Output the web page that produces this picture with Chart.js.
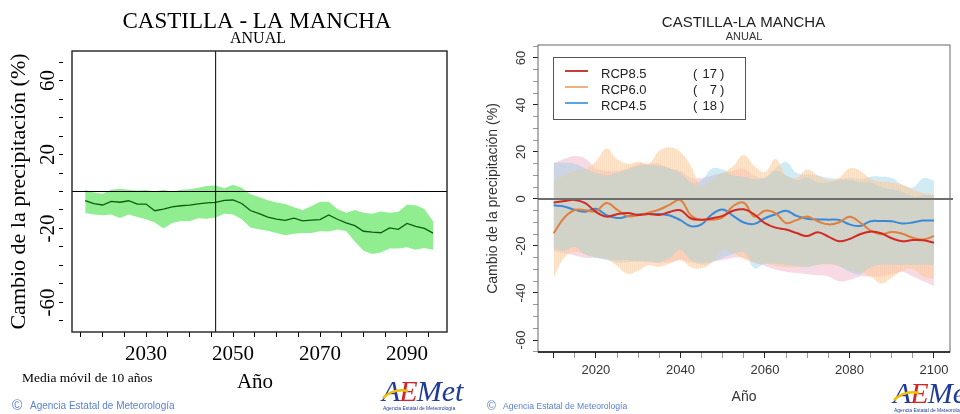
<!DOCTYPE html>
<html lang="es">
<head>
<meta charset="utf-8">
<title>Castilla-La Mancha · cambio de la precipitación anual</title>
<style>
  html, body { margin: 0; padding: 0; background: #fff; }
  #panel { position: relative; width: 960px; height: 414px; overflow: hidden; }
  .graf { position: absolute; top: 0; width: 480px; height: 414px; }
</style>
</head>
<body>
<div id="panel">
  <div class="graf" style="left:0"><canvas id="izq"></canvas></div>
  <div class="graf" style="left:480px"><canvas id="der"></canvas></div>
</div>

<script src="https://cdn.jsdelivr.net/npm/chart.js"></script>
<script>
// ---- Panel izquierdo: media móvil de 10 años (conjunto de modelos) ----
const anosIzq = [2016, 2018, 2020, 2022, 2024, 2026, 2028, 2030, 2032, 2034, 2036, 2038, 2040, 2042,
  2044, 2046, 2048, 2050, 2052, 2054, 2056, 2058, 2060, 2062, 2064, 2066, 2068, 2070, 2072, 2074,
  2076, 2078, 2080, 2082, 2084, 2086, 2088, 2090, 2092, 2094, 2096];
const mediaIzq = [-4.9, -6.5, -7.3, -5.3, -5.8, -5.0, -6.8, -6.8, -10.4, -9.5, -8.3, -7.7, -7.4, -6.7,
  -6.1, -5.9, -4.8, -4.6, -6.5, -10.3, -12.0, -13.8, -15.0, -15.6, -14.4, -15.9, -15.5, -15.2, -12.7, -15.0,
  -17.0, -18.5, -21.5, -22.0, -22.3, -19.7, -20.5, -17.3, -18.8, -20.0, -22.5];
const bandaSupIzq = [1.0, -0.5, -1.2, 1.0, 1.5, 1.0, 0.5, 0.8, 0.0, 1.0, -0.3, 1.0, 1.2, 2.0,
  3.0, 3.3, 1.8, 3.6, 2.0, -1.5, -3.0, -4.8, -6.0, -6.8, -8.5, -10.0, -8.0, -5.5, -5.5, -9.5,
  -11.5, -10.0, -11.5, -12.0, -10.8, -11.5, -11.0, -7.1, -7.5, -9.5, -16.1];
const bandaInfIzq = [-11.6, -12.4, -12.8, -12.4, -14.3, -12.5, -13.8, -15.0, -16.8, -20.0, -17.0, -15.9, -16.1, -14.5,
  -14.8, -14.0, -12.0, -12.4, -15.0, -19.5, -20.4, -21.2, -22.5, -23.7, -22.8, -22.5, -22.5, -21.5, -21.7, -20.6,
  -21.4, -27.0, -32.0, -33.8, -33.0, -30.9, -30.9, -30.1, -31.5, -30.6, -31.5];
const anoReferencia = 2046;
const etiquetasXIzq = [2030, 2050, 2070, 2090];
const etiquetasYIzq = [60, 20, -20, -60];

// ---- Panel derecho: escenarios RCP ----
const anosDer = [2010, 2012.5, 2015, 2017.5, 2020, 2022.5, 2025, 2027.5, 2030, 2032.5, 2035, 2037.5,
  2040, 2042.5, 2045, 2047.5, 2050, 2052.5, 2055, 2057.5, 2060, 2062.5, 2065, 2067.5, 2070, 2072.5,
  2075, 2077.5, 2080, 2082.5, 2085, 2087.5, 2090, 2092.5, 2095, 2097.5, 2100];
const rcp85 = [-1.6, -0.9, -0.4, -1.8, -5.5, -7.5, -6.5, -6.0, -6.8, -6.4, -6.8, -5.5,
  -4.8, -8.3, -8.8, -8.2, -7.2, -5.0, -4.4, -6.6, -10.3, -12.2, -13.0, -14.5, -15.8, -14.2,
  -16.0, -18.0, -17.0, -15.0, -13.9, -14.6, -16.7, -18.0, -17.5, -17.6, -18.6];
const rcp60 = [-14.6, -8.0, -4.7, -4.8, -5.2, -1.7, -4.5, -7.3, -6.9, -5.8, -4.5, -2.4,
  -0.5, -7.0, -8.9, -8.8, -7.8, -3.0, -1.6, -7.5, -5.0, -6.0, -10.2, -9.0, -7.5, -9.5,
  -10.8, -10.0, -7.6, -10.0, -13.5, -15.0, -14.0, -14.8, -16.5, -17.2, -15.8];
const rcp45 = [-2.7, -3.2, -4.6, -5.4, -4.2, -6.9, -8.1, -7.4, -6.6, -6.4, -6.4, -7.0,
  -9.0, -11.6, -10.8, -6.5, -4.5, -7.2, -10.0, -10.6, -8.2, -6.5, -5.0, -7.2, -8.4, -8.7,
  -8.8, -8.9, -10.8, -11.5, -9.5, -9.4, -9.5, -10.4, -10.0, -9.2, -9.2];
const rcp85Sup = [15.3, 17, 18.3, 17.2, 13, 12, 12, 13, 15, 15, 15, 13,
  12, 9, 9, 10, 11, 12, 13, 10, 9, 12, 10, 8, 9, 7,
  7, 8, 8, 7, 7, 5, 4, 3, 1, 1.5, 1.5];
const rcp85Inf = [-22, -23, -24, -25, -25, -25.5, -26, -26, -26.5, -27, -27, -27,
  -26, -27, -27, -26.5, -26, -25, -25, -27, -28.5, -30, -31, -31.5, -32, -32.5,
  -33, -35, -34.5, -33, -33, -33, -32, -31, -33, -35, -37];
const rcp60Sup = [8, 10, 12, 12.5, 16, 21.5, 17, 15, 15.8, 15, 20.5, 22,
  20, 14, 5, 8, 11, 14, 18.7, 14, 11.5, 17, 10, 9, 12.5, 10,
  8, 9, 13, 12, 8.5, 7.5, 7, 6, 4, 2.5, 2];
const rcp60Inf = [-33.5, -25, -22.5, -23.5, -24.5, -25.5, -28.5, -31.8, -30.5, -28.2, -28.9, -27.5,
  -26, -29, -29.5, -27, -21.5, -23, -25.5, -27, -27.5, -28.5, -29, -29, -28.5, -28,
  -28, -28.5, -30, -31, -33, -36, -33.5, -30.5, -30, -33, -34];
const rcp45Sup = [15.5, 15.5, 15, 13, 11, 10, 11, 12.5, 14, 14.5, 14, 13,
  11, 7, 8, 13, 12.5, 10, 9.5, 8.5, 9, 13, 15.8, 11, 10.5, 10,
  9, 8.5, 9, 8.5, 9.5, 9.5, 9, 6, 5, 8.8, 8];
const rcp45Inf = [-21, -22, -20.3, -23.5, -25, -26, -27, -27, -26.5, -26.5, -27, -25,
  -21.6, -26, -28, -27, -25, -23.5, -22.6, -29.5, -27.5, -27.5, -28, -28.5, -29, -28,
  -27.5, -28.5, -31, -32, -29, -28, -28, -28, -28, -28, -28];
const escenarios = ['RCP8.5', 'RCP6.0', 'RCP4.5'];
const numModelos = [17, 7, 18];
const etiquetasXDer = [2020, 2040, 2060, 2080, 2100];
const etiquetasYDer = [60, 40, 20, 0, -20, -40, -60];

const xy = (xs, ys) => xs.map((x, i) => ({ x, y: ys[i] }));

// zona común a los tres escenarios
const comunSup = anosDer.map((_, i) => Math.min(rcp85Sup[i], rcp60Sup[i], rcp45Sup[i]));
const comunInf = anosDer.map((_, i) => Math.max(rcp85Inf[i], rcp60Inf[i], rcp45Inf[i]));

const SERIF = '"Liberation Serif", "Times New Roman", serif';
const SANS = '"Liberation Sans", Arial, sans-serif';
const AZUL_AEMET = '#5a7fd0';

function logoAemet(ctx, x, y) {
  ctx.save();
  ctx.font = 'italic 30px ' + SERIF;
  ctx.textAlign = 'left';
  ctx.textBaseline = 'alphabetic';
  let cx = x;
  [['A', '#1f3c9c'], ['E', '#d0262b'], ['Met', '#1f3c9c']].forEach(([t, c]) => {
    ctx.fillStyle = c;
    ctx.fillText(t, cx, y);
    cx += ctx.measureText(t).width - 1;
  });
  ctx.strokeStyle = '#f0c000';
  ctx.lineWidth = 2.5;
  ctx.beginPath();
  ctx.moveTo(x + 1, y - 3);
  ctx.quadraticCurveTo(x + 12, y - 13, x + 26, y - 10);
  ctx.stroke();
  ctx.font = '5px ' + SANS;
  ctx.fillStyle = '#1f3c9c';
  ctx.fillText('Agencia Estatal de Meteorología', x + 1, y + 9);
  ctx.restore();
}

function rotulos(items, logo) {
  return {
    id: 'rotulos',
    afterDraw(chart) {
      const ctx = chart.ctx;
      ctx.save();
      ctx.textBaseline = 'alphabetic';
      items.forEach(t => {
        ctx.font = t.font;
        ctx.fillStyle = t.color || '#000';
        ctx.textAlign = t.align || 'left';
        ctx.fillText(t.text, t.x, t.y);
      });
      ctx.restore();
      logoAemet(ctx, logo.x, logo.y);
    }
  };
}

// marco, línea del cero y año de referencia (panel izquierdo)
const marcoIzq = {
  id: 'marcoIzq',
  afterDatasetsDraw(chart) {
    const { ctx, chartArea: a, scales: { x, y } } = chart;
    const izq = a.left + 9;
    ctx.save();
    ctx.strokeStyle = '#000';
    ctx.lineWidth = 1;
    const y0 = y.getPixelForValue(0);
    ctx.beginPath(); ctx.moveTo(izq, y0); ctx.lineTo(a.right, y0); ctx.stroke();
    const xr = x.getPixelForValue(anoReferencia);
    ctx.beginPath(); ctx.moveTo(xr, a.top); ctx.lineTo(xr, a.bottom); ctx.stroke();
    ctx.strokeStyle = '#222';
    ctx.lineWidth = 1.4;
    ctx.strokeRect(izq, a.top, a.right - izq, a.bottom - a.top);
    ctx.restore();
  }
};

// marco, línea del cero y leyenda (panel derecho)
const marcoDer = {
  id: 'marcoDer',
  afterDatasetsDraw(chart) {
    const { ctx, chartArea: a, scales: { y } } = chart;
    ctx.save();
    const y0 = y.getPixelForValue(0);
    ctx.strokeStyle = '#6e6e6e';
    ctx.lineWidth = 2;
    ctx.beginPath(); ctx.moveTo(a.left, y0); ctx.lineTo(a.right + 3, y0); ctx.stroke();
    ctx.strokeStyle = '#666';
    ctx.lineWidth = 1;
    ctx.strokeRect(a.left, a.top, a.right - a.left, a.bottom - a.top);
    ctx.strokeStyle = '#111';
    ctx.lineWidth = 1.6;
    ctx.beginPath(); ctx.moveTo(a.left, a.bottom); ctx.lineTo(a.right, a.bottom); ctx.stroke();

    // leyenda
    const coloresLeyenda = ['#c0413c', '#eeb07c', '#5ba5e0'];
    ctx.strokeStyle = '#555';
    ctx.lineWidth = 1;
    ctx.strokeRect(73.5, 57.5, 192, 62);
    ctx.font = '13px ' + SANS;
    ctx.fillStyle = '#222';
    escenarios.forEach((nombre, i) => {
      const yy = 71 + i * 16;
      ctx.strokeStyle = coloresLeyenda[i];
      ctx.lineWidth = 2;
      ctx.beginPath(); ctx.moveTo(85, yy); ctx.lineTo(108, yy); ctx.stroke();
      ctx.textAlign = 'left';
      ctx.fillText(nombre, 121, yy + 7);
      ctx.fillText('(', 213, yy + 7);
      ctx.fillText(')', 240, yy + 7);
      ctx.textAlign = 'right';
      ctx.fillText(String(numModelos[i]), 237, yy + 7);
    });
    ctx.restore();
  }
};

Chart.defaults.devicePixelRatio = 1;

// ---------- Panel izquierdo ----------
new Chart(document.getElementById('izq'), {
  type: 'line',
  data: {
    datasets: [
      { data: xy(anosIzq, mediaIzq), borderColor: '#0b5d0b', borderWidth: 1.3, pointRadius: 0, fill: false, tension: 0 },
      { data: xy(anosIzq, bandaSupIzq), borderColor: 'rgba(0,0,0,0)', borderWidth: 0, pointRadius: 0,
        fill: '+1', backgroundColor: '#90ee90', tension: 0 },
      { data: xy(anosIzq, bandaInfIzq), borderColor: 'rgba(0,0,0,0)', borderWidth: 0, pointRadius: 0, fill: false, tension: 0 }
    ]
  },
  options: {
    responsive: true,
    maintainAspectRatio: false,
    animation: false,
    layout: { padding: { top: 51, right: 33, left: 0, bottom: 0 } },
    plugins: { legend: { display: false }, tooltip: { enabled: false } },
    scales: {
      x: {
        type: 'linear', min: 2010.9, max: 2099.2,
        afterFit: s => { s.height = 82; },
        border: { display: false },
        grid: { drawOnChartArea: false, tickLength: 5, tickColor: '#000' },
        ticks: {
          stepSize: 5, includeBounds: false, autoSkip: false, maxRotation: 0, padding: 5,
          color: '#000', font: { family: SERIF, size: 21 },
          callback: v => etiquetasXIzq.includes(v) ? String(v) : ''
        },
        title: { display: true, text: 'Año', color: '#000', font: { family: SERIF, size: 21 }, padding: { bottom: 19 } }
      },
      y: {
        min: -76, max: 76,
        afterFit: s => { s.width = 63; },
        border: { display: false },
        grid: { drawOnChartArea: false, tickLength: 4, tickColor: '#000' },
        ticks: {
          stepSize: 10, includeBounds: false, autoSkip: false, minRotation: 90, maxRotation: 90,
          crossAlign: 'center', padding: -3.5,
          color: '#000', font: { family: SERIF, size: 21 },
          callback: v => etiquetasYIzq.includes(v) ? String(v) : ''
        },
        title: { display: true, text: 'Cambio de la precipitación (%)', color: '#000', font: { family: SERIF, size: 22 }, padding: { top: 6 } }
      }
    }
  },
  plugins: [marcoIzq, rotulos([
    { text: 'CASTILLA - LA MANCHA', x: 257, y: 28, font: '23px ' + SERIF, align: 'center' },
    { text: 'ANUAL', x: 258, y: 43, font: '16px ' + SERIF, align: 'center' },
    { text: 'Media móvil de 10 años', x: 22, y: 382, font: '13.5px ' + SERIF },
    { text: '©', x: 12, y: 410, font: '14px ' + SANS, color: AZUL_AEMET },
    { text: 'Agencia Estatal de Meteorología', x: 30, y: 409, font: '10px ' + SANS, color: AZUL_AEMET }
  ], { x: 382, y: 401 })]
});

// ---------- Panel derecho ----------
const ctxDer = document.getElementById('der').getContext('2d');
// rayado vertical fino para la banda de RCP6.0
function rayado() {
  const c = document.createElement('canvas');
  c.width = 2; c.height = 4;
  const g = c.getContext('2d');
  g.fillStyle = 'rgba(250,205,160,0.48)';
  g.fillRect(0, 0, 2, 4);
  g.fillStyle = 'rgba(245,185,130,0.22)';
  g.fillRect(0, 0, 1, 4);
  return ctxDer.createPattern(c, 'repeat');
}

const banda = (ys, extra) => Object.assign({
  data: xy(anosDer, ys), borderColor: 'rgba(0,0,0,0)', borderWidth: 0, pointRadius: 0, tension: 0.4, fill: false
}, extra || {});
const linea = (ys, color) => ({
  data: xy(anosDer, ys), borderColor: color, borderWidth: 2, pointRadius: 0, tension: 0.4, fill: false
});

new Chart(ctxDer, {
  type: 'line',
  data: {
    datasets: [
      linea(rcp85, '#d22a22'),
      linea(rcp60, '#e0803e'),
      linea(rcp45, '#3a89d8'),
      banda(comunSup, { fill: '+1', backgroundColor: 'rgba(207,211,202,0.92)' }),
      banda(comunInf),
      banda(rcp60Sup, { fill: '+1', backgroundColor: rayado() }),
      banda(rcp60Inf),
      banda(rcp45Sup, { fill: '+1', backgroundColor: 'rgba(140,205,228,0.4)' }),
      banda(rcp45Inf),
      banda(rcp85Sup, { fill: '+1', backgroundColor: 'rgba(235,150,180,0.35)' }),
      banda(rcp85Inf)
    ]
  },
  options: {
    responsive: true,
    maintainAspectRatio: false,
    animation: false,
    layout: { padding: { top: 45, right: 10, left: 0, bottom: 0 } },
    plugins: { legend: { display: false }, tooltip: { enabled: false } },
    scales: {
      x: {
        type: 'linear', min: 2006.3, max: 2103.8,
        afterFit: s => { s.height = 62; },
        border: { display: false },
        grid: {
          drawOnChartArea: false, tickLength: 6,
          tickColor: c => (c.tick && (c.tick.value % 20 === 0 || c.tick.value === 2010)) ? '#222' : '#999'
        },
        ticks: {
          stepSize: 5, includeBounds: false, autoSkip: false, maxRotation: 0, padding: 5,
          color: '#333', font: { family: SANS, size: 13 },
          callback: v => etiquetasXDer.includes(v) ? String(v) : ''
        },
        title: { display: true, text: 'Año', color: '#333', font: { family: SANS, size: 14 }, padding: { bottom: 8 } }
      },
      y: {
        min: -65.1, max: 65.5,
        afterFit: s => { s.width = 58; },
        border: { display: false },
        grid: {
          drawOnChartArea: false, tickLength: 5,
          tickColor: c => (c.tick && c.tick.value % 20 === 0) ? '#222' : '#999'
        },
        ticks: {
          stepSize: 5, includeBounds: false, autoSkip: false, minRotation: 90, maxRotation: 90,
          crossAlign: 'center', padding: 2,
          color: '#333', font: { family: SANS, size: 13 },
          callback: v => etiquetasYDer.includes(v) ? String(v) : ''
        },
        title: { display: true, text: 'Cambio de la precipitación (%)', color: '#333', font: { family: SANS, size: 14 }, padding: { top: 5 } }
      }
    }
  },
  plugins: [marcoDer, rotulos([
    { text: 'CASTILLA-LA MANCHA', x: 263.5, y: 27, font: '15px ' + SANS, align: 'center', color: '#222' },
    { text: 'ANUAL', x: 264, y: 40, font: '11px ' + SANS, align: 'center', color: '#333' },
    { text: '©', x: 7, y: 410, font: '12px ' + SANS, color: AZUL_AEMET },
    { text: 'Agencia Estatal de Meteorología', x: 23, y: 409, font: '8.6px ' + SANS, color: AZUL_AEMET }
  ], { x: 413, y: 403 })]
});
</script>
</body>
</html>
